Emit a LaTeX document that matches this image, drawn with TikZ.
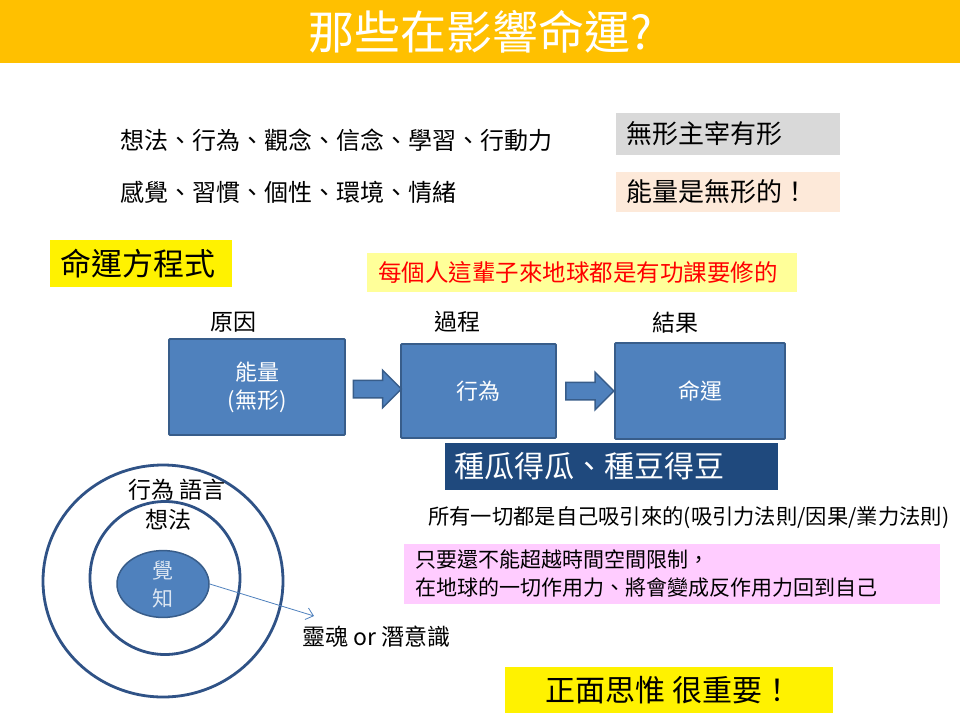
\documentclass[tikz,border=0pt]{standalone}
\usepackage{fontspec}
\setmainfont{Noto Sans CJK TC}
\usetikzlibrary{positioning}
\usetikzlibrary{shapes.geometric,shapes.arrows,arrows.meta,calc}
\definecolor{titlebar}{HTML}{FFC000}
\definecolor{graybox}{HTML}{D9D9D9}
\definecolor{peachbox}{HTML}{FDE9D9}
\definecolor{lightyellow}{HTML}{FFFF99}
\definecolor{pinkbox}{HTML}{FFCCFF}
\definecolor{stepblue}{HTML}{4F81BD}
\definecolor{stepedge}{HTML}{385D8A}
\definecolor{darkblue}{HTML}{1F497D}
\definecolor{ringblue}{HTML}{2F5286}
\definecolor{coretext}{HTML}{DCE6F2}

\begin{document}
\begin{tikzpicture}[x=1pt,y=-1pt,
  fs/.style={font=\fontsize{#1}{#1}\selectfont},
  txt/.style={anchor=west,inner sep=0pt,fs=#1},
  hlbox/.style={inner xsep=10pt,inner ysep=0pt,align=left},
  stepbox/.style={fill=stepblue,draw=stepedge,line width=1.8pt,rounded corners=1pt,text=white,align=center,fs=22},
  stepgo/.style={single arrow,fill=stepblue,draw=stepedge,line width=1.5pt,inner sep=8pt,single arrow head extend=10pt,minimum height=48},
  ring/.style={ellipse,draw=ringblue,line width=2.8pt,inner sep=0pt},
  soularrow/.style={draw=stepblue,line width=0.8pt,-{Straight Barb[length=7pt,width=12pt]}}]
  \path[fill=white] (0,0) rectangle (960,720);
  \useasboundingbox (0,0) rectangle (960,720);

  \node[fill=titlebar,minimum width=960,minimum height=63,inner sep=0pt,text=white,fs=46] (title) at (480,31.5) {那些在影響命運?};

  \node[txt=24] (ideas) at (120,140) {想法、行為、觀念、信念、學習、行動力};
  \node[txt=24] (feel) at (120,192) {感覺、習慣、個性、環境、情緒};
  \node[hlbox,fill=graybox,minimum width=224,minimum height=42,text width=204,fs=26] (rule) at (728,134) {無形主宰有形};
  \node[hlbox,fill=peachbox,minimum width=224,minimum height=40,text width=204,fs=26] (energy) at (728,192) {能量是無形的！};

  \node[hlbox,fill=yellow,minimum width=182,minimum height=47,text width=162,fs=31] (formula) at (141,263.5) {命運方程式};
  \node[hlbox,fill=lightyellow,minimum width=430,minimum height=39,text width=408,inner xsep=11pt,text=red,fs=23.5] (lesson) at (582,272.5) {每個人這輩子來地球都是有功課要修的};

  \node[fs=23,inner sep=0pt] (cause) at (233,322) {原因};
  \node[fs=23,inner sep=0pt] (process) at (457,322) {過程};
  \node[fs=23,inner sep=0pt] (result) at (675,323) {結果};

  \node[stepbox,minimum width=176,minimum height=96] (power) at (257,387) {能量\\[6pt](無形)};
  \node[stepbox,minimum width=155,minimum height=94] (act) at (478.5,391) {行為};
  \node[stepbox,minimum width=170,minimum height=96] (fate) at (700,391) {命運};
  \node[stepgo] (go1) at ($(power.east)!0.5!(act.west)$) {};
  \node[stepgo] (go2) at ($(act.east)!0.5!(fate.west)$) {};

  \node[hlbox,fill=darkblue,minimum width=333,minimum height=47,text width=313,text=white,fs=30] (seed) at (611,466.5) {種瓜得瓜、種豆得豆};
  \node[txt=21.3] (attract) at (428,518) {所有一切都是自己吸引來的(吸引力法則/因果/業力法則)};
  \node[hlbox,fill=pinkbox,minimum width=536,minimum height=60,text width=514,inner xsep=11pt,fs=21] (karma) at (672,574) {只要還不能超越時間空間限制，\\[7pt]在地球的一切作用力、將會變成反作用力回到自己};
  \node[fill=yellow,minimum width=328,minimum height=46,inner sep=0pt,fs=30] (positive) at (669,690) {正面思惟 很重要！};

  \node[ring,minimum width=240,minimum height=232] (outer) at (163,581) {};
  \node[ring,minimum width=150,minimum height=153] (middle) at (165,578) {};
  \node[ellipse,fill=stepblue,draw=stepedge,line width=1.5pt,minimum width=92,minimum height=66,inner sep=0pt,text=coretext,align=center,fs=21] (core) at (163,584) {覺\\[7pt]知};
  \node[fs=23,inner sep=0pt] (speech) at (177,490) {行為 語言};
  \node[fs=23,inner sep=0pt] (thought) at (168,520) {想法};

  \coordinate (soulend) at (314,616);
  \draw[soularrow] (core.east) -- (soulend);
  \node[txt=23] (soul) at (302,637) {靈魂 or 潛意識};
\end{tikzpicture}
\end{document}
